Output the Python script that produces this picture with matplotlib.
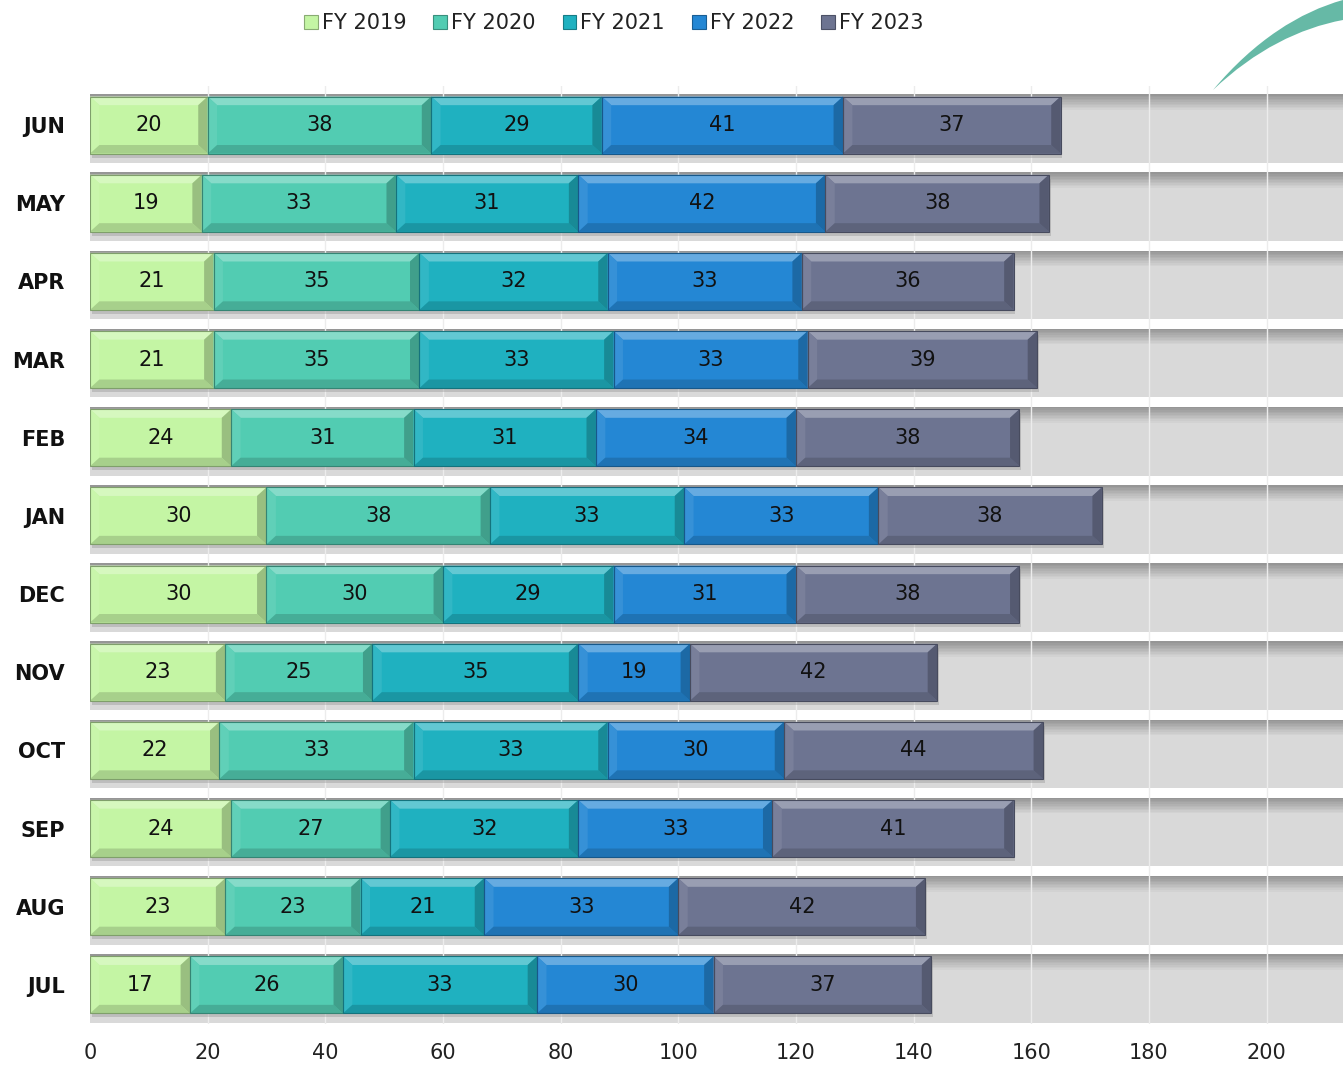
import matplotlib
matplotlib.use('Agg')
import matplotlib.pyplot as plt
from matplotlib.patches import Polygon, Rectangle, PathPatch
from matplotlib.path import Path
from matplotlib.colors import to_rgb
import numpy as np

# -------------------- Data --------------------
months = ['JUL', 'AUG', 'SEP', 'OCT', 'NOV', 'DEC', 'JAN', 'FEB', 'MAR', 'APR', 'MAY', 'JUN']
series_names = ['FY 2019', 'FY 2020', 'FY 2021', 'FY 2022', 'FY 2023']
fy2019 = [17, 23, 24, 22, 23, 30, 30, 24, 21, 21, 19, 20]
fy2020 = [26, 23, 27, 33, 25, 30, 38, 31, 35, 35, 33, 38]
fy2021 = [33, 21, 32, 33, 35, 29, 33, 31, 33, 32, 31, 29]
fy2022 = [30, 33, 33, 30, 19, 31, 33, 34, 33, 33, 42, 41]
fy2023 = [37, 42, 41, 44, 42, 38, 38, 38, 39, 36, 38, 37]
series = [fy2019, fy2020, fy2021, fy2022, fy2023]
colors = ['#c4f5a4', '#52ccb2', '#1fb1c0', '#2487d4', '#6d7491']
xticks = [0, 20, 40, 60, 80, 100, 120, 140, 160, 180, 200]

XMAX = 213
BAR_H = 0.73
BAND_H = 0.88


def mix(c, other, t):
    c = np.array(to_rgb(c))
    o = np.array(to_rgb(other))
    return tuple(c * (1 - t) + o * t)


def bevel_bar(ax, left, width, y, h, color, dx=1.6, dy=0.11):
    x0, x1 = left, left + width
    y0, y1 = y - h / 2, y + h / 2
    # face
    ax.add_patch(Rectangle((x0, y0), width, h, facecolor=color, edgecolor='none', zorder=4))
    # top bevel (light)
    ax.add_patch(Polygon([(x0, y1), (x1, y1), (x1 - dx, y1 - dy), (x0 + dx, y1 - dy)],
                         facecolor=mix(color, 'white', 0.3), edgecolor='none', zorder=5))
    # left bevel
    ax.add_patch(Polygon([(x0, y0), (x0, y1), (x0 + dx, y1 - dy), (x0 + dx, y0 + dy)],
                         facecolor=mix(color, 'white', 0.08), edgecolor='none', zorder=5))
    # bottom bevel (dark)
    ax.add_patch(Polygon([(x0, y0), (x1, y0), (x1 - dx, y0 + dy), (x0 + dx, y0 + dy)],
                         facecolor=mix(color, 'black', 0.15), edgecolor='none', zorder=5))
    # right bevel
    ax.add_patch(Polygon([(x1, y0), (x1, y1), (x1 - dx, y1 - dy), (x1 - dx, y0 + dy)],
                         facecolor=mix(color, 'black', 0.22), edgecolor='none', zorder=5))
    ax.add_patch(Rectangle((x0, y0), width, h, facecolor='none',
                           edgecolor=mix(color, 'black', 0.35), lw=0.8, zorder=6))


# -------------------- Figure --------------------
fig = plt.figure(figsize=(13.43, 10.67), dpi=100)
ax = fig.add_axes([90 / 1343, 43 / 1067, 1 - 90 / 1343, (1024 - 86) / 1067])

ypos = np.arange(len(months))

# grey background bands with darker top gradient
for y in ypos:
    yc = y - 0.045
    ax.add_patch(Rectangle((-1, yc - BAND_H / 2), XMAX + 5, BAND_H,
                           facecolor='#d9d9d9', edgecolor='none', zorder=1))
    steps = 10
    for k in range(steps):
        t = k / steps
        ax.add_patch(Rectangle((-1, yc + BAND_H / 2 - (k + 1) * 0.02), XMAX + 5, 0.02,
                               facecolor=mix('#969696', '#d9d9d9', t), edgecolor='none', zorder=1.5))

# faint vertical gridlines
for xv in xticks[1:]:
    ax.axvline(xv, color='#ececec', lw=1, zorder=2)

# bar shadows and stacked bars
totals = np.sum(series, axis=0)
for i, y in enumerate(ypos):
    ax.add_patch(Rectangle((0.3, y - BAR_H / 2 - 0.05), totals[i], BAR_H,
                           facecolor='#8a8a8a', alpha=0.35, edgecolor='none', zorder=3))

left = np.zeros(len(months))
for s, vals in enumerate(series):
    for i, y in enumerate(ypos):
        bevel_bar(ax, left[i], vals[i], y, BAR_H, colors[s])
        ax.text(left[i] + vals[i] / 2, y, str(vals[i]), ha='center', va='center',
                fontsize=15, color='#111111', zorder=7)
    left += np.array(vals)

ax.set_xlim(0, XMAX)
ax.set_ylim(-0.5, len(months) - 0.5)
ax.set_yticks(ypos)
ax.set_yticklabels(months, fontsize=15, fontweight='bold', color='#111111')
ax.set_xticks(xticks)
ax.set_xticklabels([str(v) for v in xticks], fontsize=15, color='#222222')
ax.tick_params(axis='both', length=0)
ax.tick_params(axis='y', pad=18)
ax.tick_params(axis='x', pad=14)
for sp in ax.spines.values():
    sp.set_visible(False)

# legend
handles = [Rectangle((0, 0), 1, 1, facecolor=c, edgecolor=mix(c, 'black', 0.3), lw=0.8) for c in colors]
fig.legend(handles, series_names, loc='upper center', bbox_to_anchor=(0.457, 1.005), ncol=5,
           frameon=False, fontsize=15, handlelength=0.65, handleheight=0.65,
           handletextpad=0.2, columnspacing=1.3, labelcolor='#222222')

# decorative swoosh at top-right
W, H = 1343, 1067
pts = [(1213, 90), (1255, 40), (1300, 12), (1343, 0), (1343, 20), (1300, 28), (1255, 50), (1213, 90)]
codes = [Path.MOVETO, Path.CURVE4, Path.CURVE4, Path.CURVE4, Path.LINETO,
         Path.CURVE4, Path.CURVE4, Path.CURVE4]
pts_fig = [(px / W, 1 - py / H) for px, py in pts]
fig.patches.append(PathPatch(Path(pts_fig, codes), transform=fig.transFigure,
                             facecolor='#66b9a6', edgecolor='none'))

fig.savefig('out.png', dpi=100)
plt.close(fig)
